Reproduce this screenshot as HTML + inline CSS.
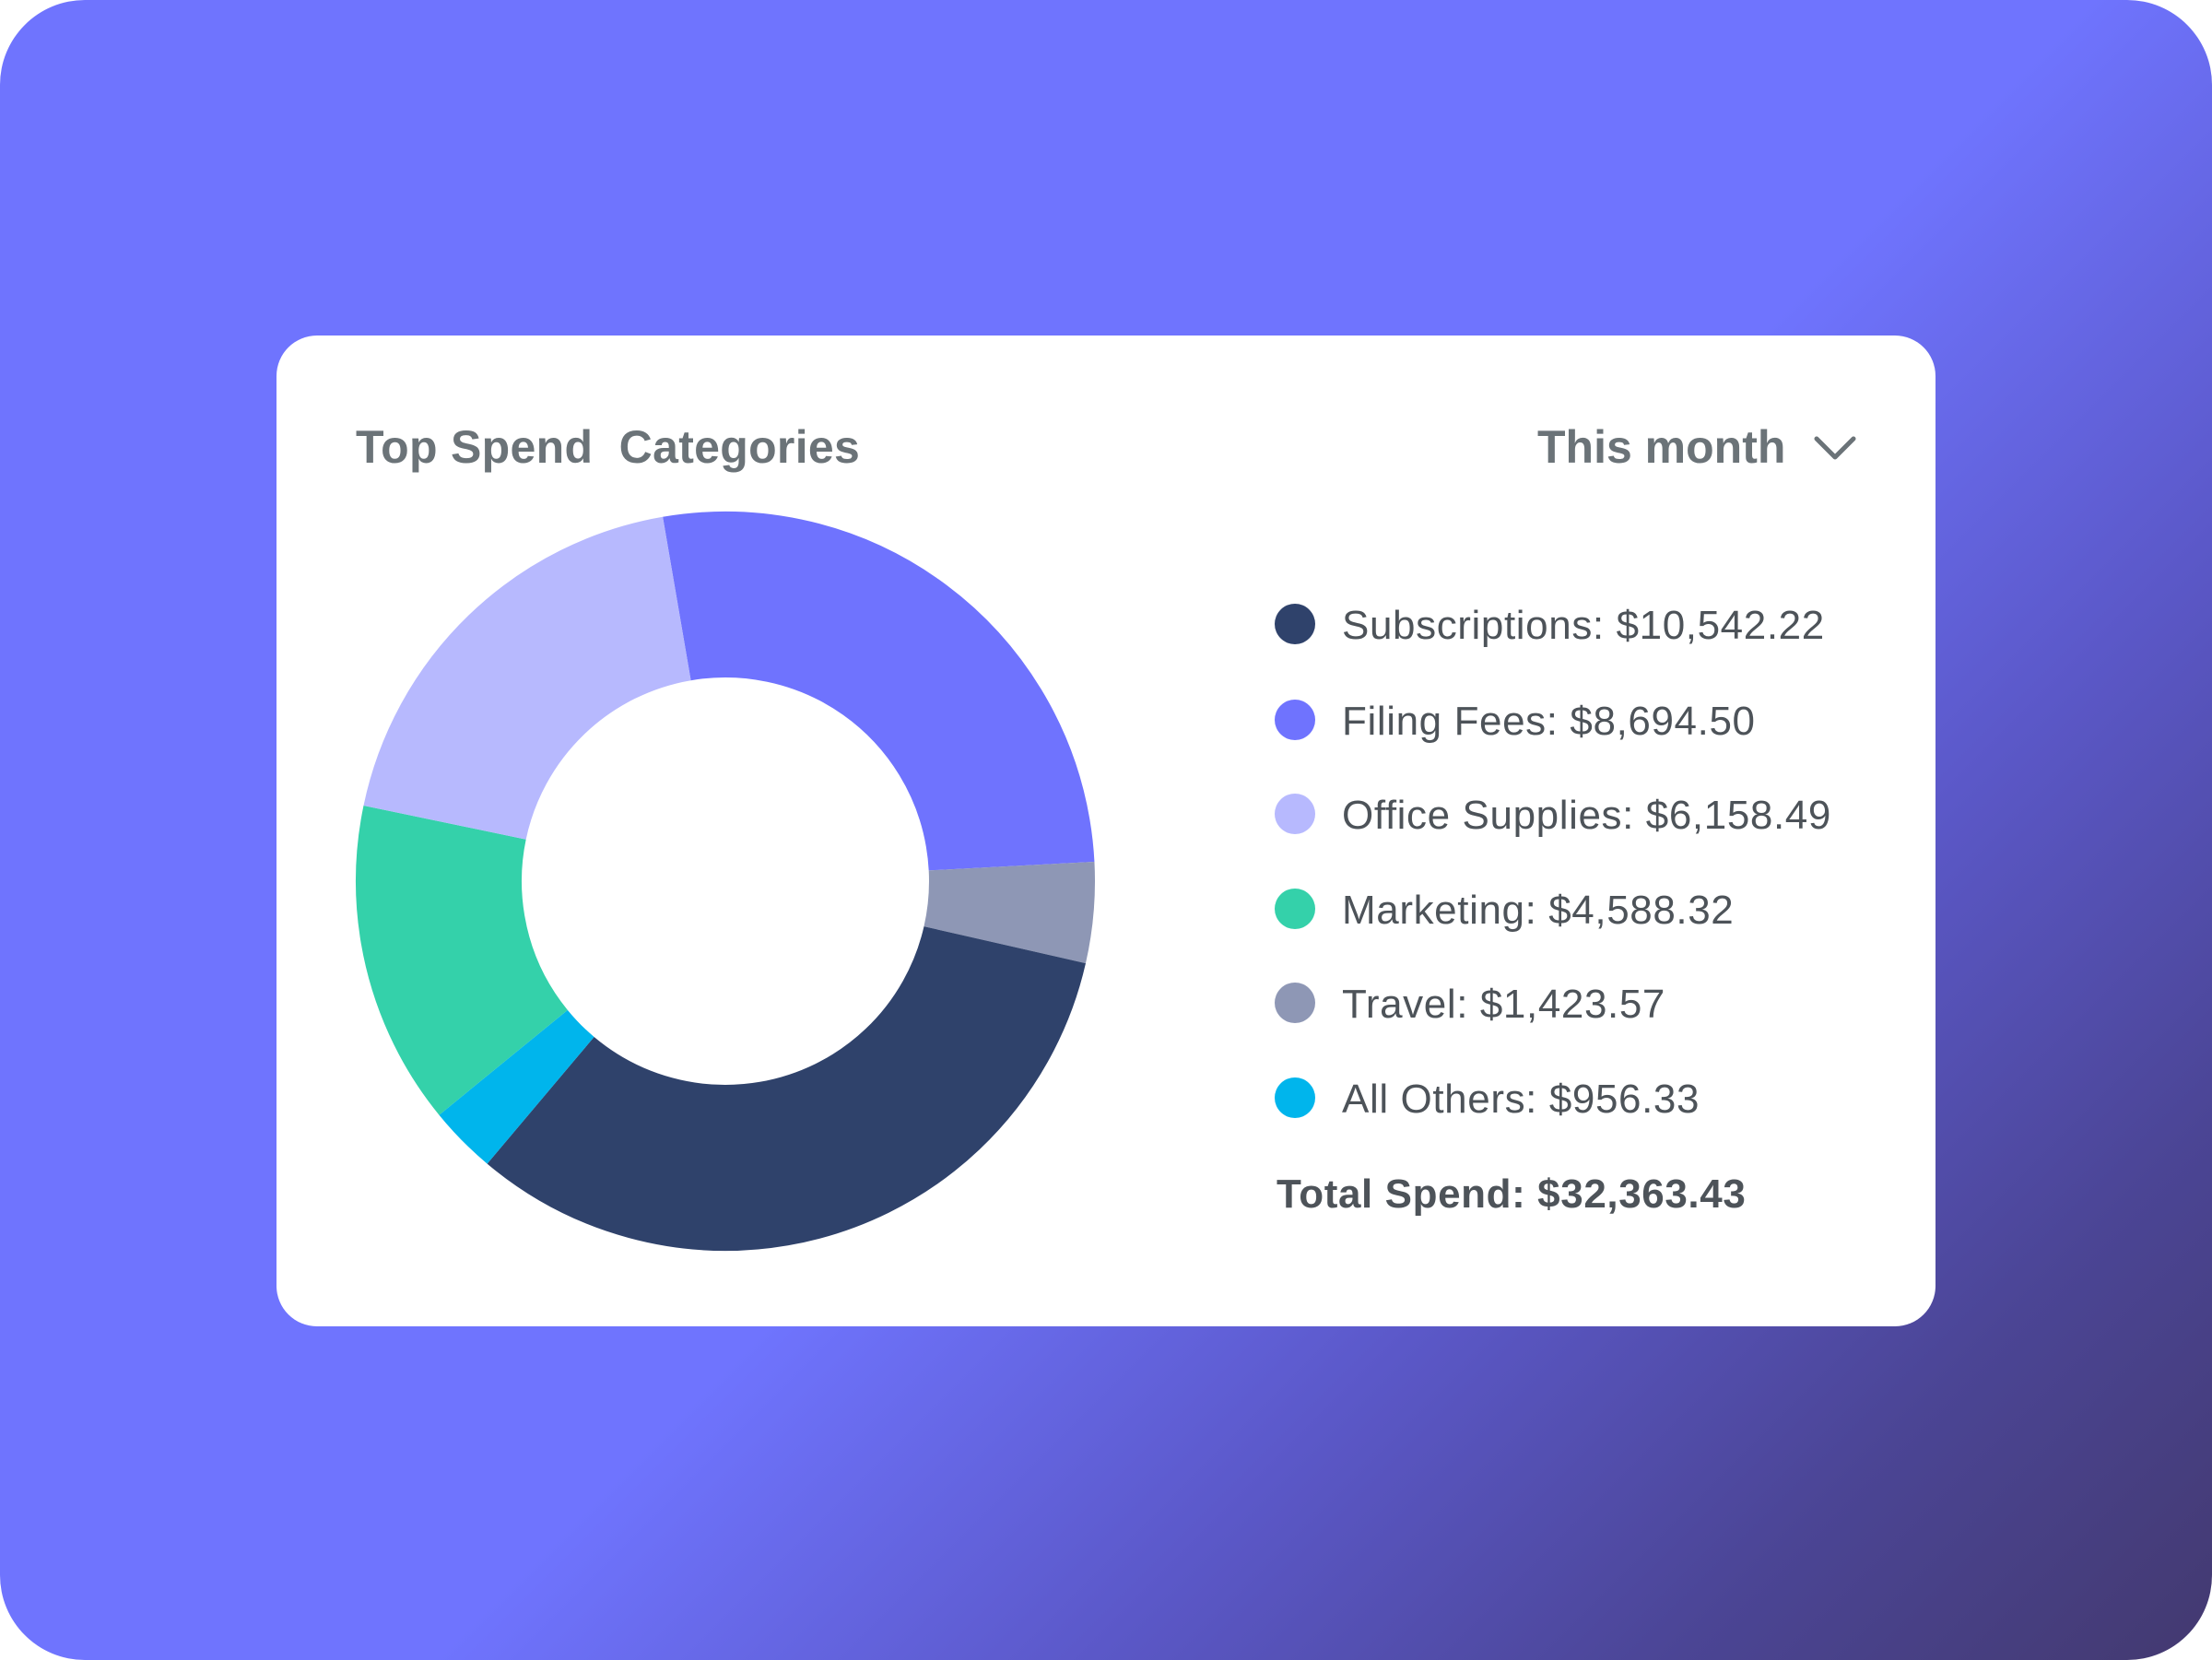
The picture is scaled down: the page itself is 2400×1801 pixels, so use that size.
<!DOCTYPE html>
<html><head><meta charset="utf-8"><style>
html,body{margin:0;padding:0;width:2400px;height:1801px;overflow:hidden;background:#fff}
.bg{position:absolute;left:0;top:0;width:2400px;height:1801px;border-radius:92px;
background:linear-gradient(135deg,#6f74fe 0%,#6f74fe 54%,#5b58c8 71%,#4b4595 86%,#43396f 100%);}
.card{position:absolute;left:300px;top:364px;width:1800px;height:1075px;background:#fff;border-radius:44px;}
.t{position:absolute;font-family:"Liberation Sans",sans-serif;white-space:nowrap;}
.title{left:386px;top:456px;font-size:50px;font-weight:bold;color:#6b7378;letter-spacing:0.3px}
.month{left:1668px;top:456px;font-size:50px;font-weight:bold;color:#6b7378;}
.lg{left:1456px;font-size:44px;color:#4d5359;letter-spacing:0.6px}
.dot{position:absolute;width:44px;height:44px;border-radius:50%;left:1383px;}
.total{left:1385px;top:1271px;font-size:44px;font-weight:bold;color:#4d5359;letter-spacing:0.6px}
</style></head><body>
<div class="bg"></div>
<div class="card"></div>
<div class="t title">Top Spend&nbsp; Categories</div>
<div class="t month">This month</div>
<svg style="position:absolute;left:0;top:0" width="2400" height="1801">
<polyline points="1971,476 1991,496 2011,476" fill="none" stroke="#6b7378" stroke-width="5" stroke-linecap="round" stroke-linejoin="round"/>
<g transform="translate(787,956) rotate(-99.75)" fill="none" stroke-width="180">
<circle r="311" stroke="#6f73fe" stroke-dasharray="525.1 2000" stroke-dashoffset="0"/>
<circle r="311" stroke="#8e97b5" stroke-dasharray="86 2000" stroke-dashoffset="-525.1"/>
<circle r="311" stroke="#2f426b" stroke-dasharray="636.5 2000" stroke-dashoffset="-611.1"/>
<circle r="311" stroke="#00b5ec" stroke-dasharray="57.7 2000" stroke-dashoffset="-1247.6"/>
<circle r="311" stroke="#34d1aa" stroke-dasharray="277.1 2000" stroke-dashoffset="-1305.3"/>
<circle r="311" stroke="#b7b9fe" stroke-dasharray="371.8 2000" stroke-dashoffset="-1582.4"/>
</g>
</svg>
<div class="dot" style="top:655px;background:#2f426b"></div>
<div class="dot" style="top:759px;background:#6f73fe"></div>
<div class="dot" style="top:861px;background:#b7b9fe"></div>
<div class="dot" style="top:964px;background:#34d1aa"></div>
<div class="dot" style="top:1066px;background:#8e97b5"></div>
<div class="dot" style="top:1169px;background:#00b5ec"></div>
<div class="t lg" style="top:654px">Subscriptions:&nbsp;$10,542.22</div>
<div class="t lg" style="top:758px">Filing Fees:&nbsp;$8,694.50</div>
<div class="t lg" style="top:860px">Office Supplies:&nbsp;$6,158.49</div>
<div class="t lg" style="top:963px">Marketing:&nbsp;$4,588.32</div>
<div class="t lg" style="top:1065px">Travel:&nbsp;$1,423.57</div>
<div class="t lg" style="top:1168px">All Others:&nbsp;$956.33</div>
<div class="t total">Total Spend:&nbsp;$32,363.43</div>
</body></html>
